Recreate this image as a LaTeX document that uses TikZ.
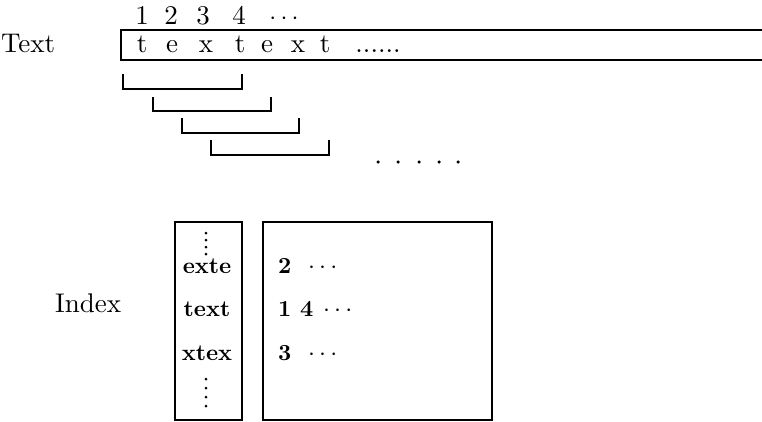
\documentclass[tikz,border=0pt]{standalone}
\usepackage{fontspec}
\setmainfont{lmroman10-regular.otf}[BoldFont=lmroman10-bold.otf]
\begin{document}
\begin{tikzpicture}[x=1pt,y=-1pt,
  big/.style={font=\fontsize{27}{32}\selectfont, inner sep=0pt, anchor=base},
  small/.style={font=\fontsize{23}{27}\selectfont\bfseries, inner sep=0pt, anchor=base},
  frame/.style={line width=2pt},
  bracket/.style={line width=1.3pt},
  dotmark/.style={fill=black, circle, inner sep=0pt, minimum size=3pt}]
\useasboundingbox (0,0) rectangle (762,421);
% labels
\node[big, anchor=base west] (textlbl) at (1,52) {Text};
\node[big, anchor=base west] (indexlbl) at (55,312) {Index};
% position numbers
\node[big] (n1) at (142,24) {1};
\node[big] (n2) at (171,24) {2};
\node[big] (n3) at (203,24) {3};
\node[big] (n4) at (239,24) {4};
\node[big] (nd) at (284,24) {$\cdots$};
% text box
\draw[frame] (775,30) -- (121,30) -- (121,60) -- (775,60);
\node[big] (c1) at (142,52) {t};
\node[big] (c2) at (172,52) {e};
\node[big] (c3) at (206,52) {x};
\node[big] (c4) at (240,52) {t};
\node[big] (c5) at (267,52) {e};
\node[big] (c6) at (298,52) {x};
\node[big] (c7) at (325,52) {t};
\node[big] (c8) at (378,52) {......};
% brackets
\draw[bracket] (123,74) -- (123,89) -- (242,89) -- (242,74);
\draw[bracket] (153,97) -- (153,111) -- (271,111) -- (271,97);
\draw[bracket] (182,118) -- (182,133) -- (299,133) -- (299,118);
\draw[bracket] (211,140) -- (211,155) -- (329,155) -- (329,140);
\foreach \i/\x in {1/378,2/398,3/419,4/439,5/458}
  \node[dotmark, minimum size=3.5pt] (h\i) at (\x,162) {};
% index boxes
\draw[frame] (175,222) rectangle (242,420);
\draw[frame] (263,222) rectangle (492,420);
\foreach \i/\y in {1/233,2/240,3/247,4/254}
  \node[dotmark] (vt\i) at (206,\y) {};
\foreach \i/\y in {1/379,2/388,3/397,4/406}
  \node[dotmark] (vb\i) at (206,\y) {};
\node[small] (k1) at (207,273) {exte};
\node[small] (k2) at (207,316) {text};
\node[small] (k3) at (207,360) {xtex};
\node[small, anchor=base west] (p1) at (278,273) {2};
\node[small, anchor=base west] (p1d) at (308,273) {$\cdots$};
\node[small, anchor=base west] (p2) at (278,316) {1 4};
\node[small, anchor=base west] (p2d) at (323,316) {$\cdots$};
\node[small, anchor=base west] (p3) at (278,360) {3};
\node[small, anchor=base west] (p3d) at (308,360) {$\cdots$};
\end{tikzpicture}
\end{document}
